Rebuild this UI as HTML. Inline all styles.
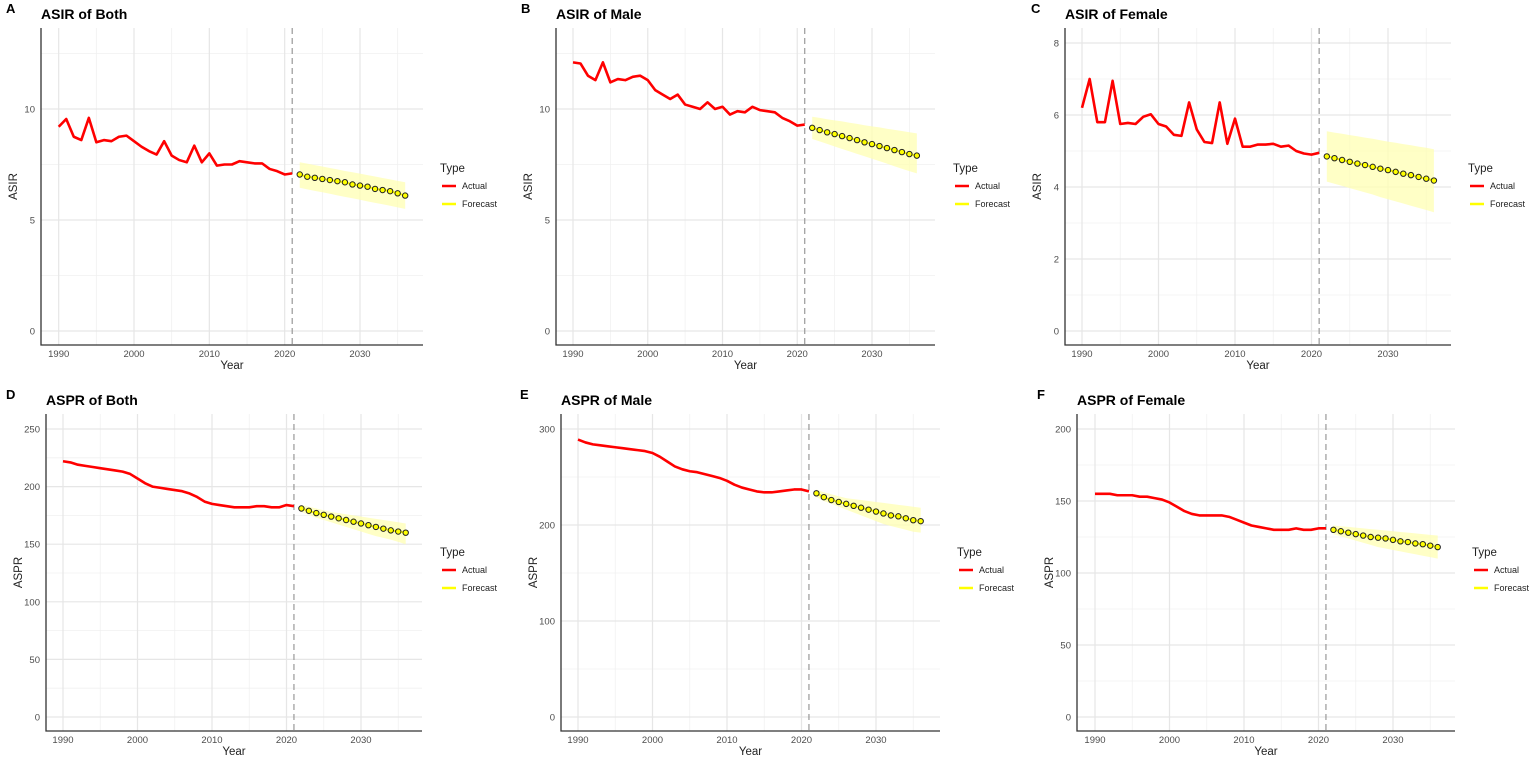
<!DOCTYPE html>
<html><head><meta charset="utf-8"><style>
body{margin:0;background:#fff;width:1535px;height:762px;overflow:hidden;font-family:"Liberation Sans",sans-serif}
svg{position:absolute;left:0;top:0}
</style></head><body>
<svg id="c" width="1535" height="762" xmlns="http://www.w3.org/2000/svg"></svg>
<script>
const actualYears=[];for(let y=1990;y<=2021;y++)actualYears.push(y);
const forecastYears=[];for(let y=2022;y<=2036;y++)forecastYears.push(y);
const aAct=[9.2,9.55,8.75,8.6,9.6,8.5,8.6,8.55,8.75,8.8,8.55,8.3,8.1,7.95,8.55,7.9,7.7,7.6,8.35,7.6,8.0,7.45,7.5,7.5,7.65,7.6,7.55,7.55,7.3,7.2,7.05,7.1];
const aFc=[7.05,6.95,6.9,6.85,6.8,6.75,6.7,6.6,6.55,6.5,6.4,6.35,6.3,6.2,6.1];
const aLo=[6.45,6.38,6.31,6.25,6.18,6.11,6.04,5.98,5.91,5.84,5.77,5.71,5.64,5.57,5.5];
const aHi=[7.6,7.54,7.47,7.41,7.34,7.28,7.21,7.15,7.09,7.02,6.96,6.89,6.83,6.76,6.7];
const bAct=[12.1,12.05,11.5,11.3,12.1,11.2,11.35,11.3,11.45,11.5,11.3,10.85,10.65,10.45,10.65,10.2,10.1,10.0,10.3,10.0,10.1,9.75,9.9,9.85,10.1,9.95,9.9,9.85,9.6,9.45,9.25,9.3];
const bFc=[9.15,9.05,8.95,8.87,8.78,8.69,8.6,8.5,8.42,8.33,8.24,8.15,8.06,7.97,7.9];
const bLo=[8.65,8.54,8.43,8.31,8.2,8.09,7.98,7.87,7.76,7.65,7.54,7.42,7.31,7.2,7.1];
const bHi=[9.65,9.6,9.54,9.49,9.44,9.38,9.33,9.27,9.22,9.17,9.11,9.06,9.01,8.95,8.9];
const cAct=[6.2,7.0,5.8,5.8,6.95,5.75,5.78,5.75,5.95,6.02,5.75,5.68,5.45,5.42,6.35,5.6,5.25,5.22,6.35,5.2,5.9,5.12,5.12,5.18,5.18,5.2,5.12,5.15,5.0,4.93,4.9,4.95];
const cFc=[4.85,4.8,4.75,4.7,4.65,4.61,4.56,4.51,4.47,4.42,4.37,4.33,4.28,4.23,4.18];
const cLo=[4.15,4.09,4.03,3.97,3.91,3.85,3.79,3.72,3.66,3.6,3.54,3.48,3.42,3.36,3.3];
const cHi=[5.55,5.51,5.48,5.44,5.41,5.37,5.34,5.3,5.26,5.23,5.19,5.16,5.12,5.09,5.05];
const dAct=[222,221,219,218,217,216,215,214,213,211,207,203,200,199,198,197,196,194,191,187,185,184,183,182,182,182,183,183,182,182,184,183];
const dFc=[181,179,177,175.5,174,172.5,171,169.5,168,166.5,165,163.5,162,161,160];
const dLo=[178,175.5,173,171,169,167,165,163,161,159,157,155.5,154,152,150];
const dHi=[184,182.5,181,179.5,178,177,176,175,174,173,172,171,170,169,168];
const eAct=[289,286,284,283,282,281,280,279,278,277,275,271,266,261,258,256,255,253,251,249,246,242,239,237,235,234,234,235,236,237,237,235];
const eFc=[233,229,226,224,222,220,218,216,214,212,210,209,207,205,204];
const eLo=[229,225,222,219,216,213,210,207,204,201,199,197,195,193,192];
const eHi=[237,234,232,230,228,227,226,225,224,223,222,221,220,219,218];
const fAct=[155,155,155,154,154,154,153,153,152,151,149,146,143,141,140,140,140,140,139,137,135,133,132,131,130,130,130,131,130,130,131,131];
const fFc=[130,129,128,127,126,125,124.5,124,123,122,121.5,120.5,120,119,118];
const fLo=[127,125.5,124,122.5,121,119.5,118,117,116,115,114,113,112,111,110];
const fHi=[133,132.5,132,131.5,131,130.5,130,129.5,129,128.5,128,127.5,127,126.5,126];

const panels=[
 {L:'A',lx0:6,t:'ASIR of Both',yl:'ASIR',ax:41,ar:423,at:28,ab:345,x0:58.7,x30:360,y0:331,ytop:10,ytopPx:109,majors:[0,5,10],minors:[2.5,7.5,12.5],act:aAct,fc:aFc,lo:aLo,hi:aHi,lx:440,ly:167},
 {L:'B',lx0:521,t:'ASIR of Male',yl:'ASIR',ax:556,ar:935,at:28,ab:345,x0:573,x30:872,y0:331,ytop:10,ytopPx:109,majors:[0,5,10],minors:[2.5,7.5,12.5],act:bAct,fc:bFc,lo:bLo,hi:bHi,lx:953,ly:167},
 {L:'C',lx0:1031,t:'ASIR of Female',yl:'ASIR',ax:1065,ar:1451,at:28,ab:345,x0:1082,x30:1388,y0:331,ytop:8,ytopPx:43,majors:[0,2,4,6,8],minors:[1,3,5,7],act:cAct,fc:cFc,lo:cLo,hi:cHi,lx:1468,ly:167},
 {L:'D',lx0:6,t:'ASPR of Both',yl:'ASPR',ax:46,ar:422,at:414,ab:731,x0:63,x30:361,y0:717,ytop:250,ytopPx:429,majors:[0,50,100,150,200,250],minors:[25,75,125,175,225],act:dAct,fc:dFc,lo:dLo,hi:dHi,lx:440,ly:551},
 {L:'E',lx0:520,t:'ASPR of Male',yl:'ASPR',ax:561,ar:940,at:414,ab:731,x0:578,x30:876,y0:717,ytop:300,ytopPx:429,majors:[0,100,200,300],minors:[50,150,250],act:eAct,fc:eFc,lo:eLo,hi:eHi,lx:957,ly:551},
 {L:'F',lx0:1037,t:'ASPR of Female',yl:'ASPR',ax:1077,ar:1455,at:414,ab:731,x0:1095,x30:1393,y0:717,ytop:200,ytopPx:429,majors:[0,50,100,150,200],minors:[25,75,125,175],act:fAct,fc:fFc,lo:fLo,hi:fHi,lx:1472,ly:551}
];
const NS='http://www.w3.org/2000/svg';
const svg=document.getElementById('c');
function mk(tag,attrs,parent,text){const e=document.createElementNS(NS,tag);for(const k in attrs)e.setAttribute(k,attrs[k]);if(text!==undefined)e.textContent=text;(parent||svg).appendChild(e);return e;}
panels.forEach((p,i)=>{
 const g=mk('g',{});
 
 
 const xs=v=>p.x0+(v-1990)*(p.x30-p.x0)/40;
 const ys=v=>p.y0-(v)*(p.y0-p.ytopPx)/p.ytop;
 [1995,2005,2015,2025,2035].forEach(v=>{const l=mk('line',{x1:xs(v),x2:xs(v),y1:p.at,y2:p.ab,stroke:'#f0f0f0','stroke-width':0.8},g);});
 p.minors.forEach(v=>{if(ys(v)<p.at)return;const l=mk('line',{x1:p.ax,x2:p.ar,y1:ys(v),y2:ys(v),stroke:'#f0f0f0','stroke-width':0.8},g);});
 [1990,2000,2010,2020,2030].forEach(v=>{const l=mk('line',{x1:xs(v),x2:xs(v),y1:p.at,y2:p.ab,stroke:'#e6e6e6','stroke-width':1.2},g);
  const t=mk('text',{x:xs(v),y:p.ab+12,'font-size':9.5,fill:'#4d4d4d','text-anchor':'middle'},g,v);});
 p.majors.forEach(v=>{const l=mk('line',{x1:p.ax,x2:p.ar,y1:ys(v),y2:ys(v),stroke:'#e6e6e6','stroke-width':1.2},g);
  const t=mk('text',{x:p.ax-6,y:ys(v)+3.5,'font-size':9.5,fill:'#4d4d4d','text-anchor':'end'},g,v);});
 const ax=mk('path',{d:`M${p.ax},${p.at}V${p.ab}H${p.ar}`,fill:'none',stroke:'#333','stroke-width':1.3},g);
 let d='';forecastYears.forEach((y,k)=>d+=(k?'L':'M')+xs(y)+','+ys(p.hi[k]));
 for(let k=forecastYears.length-1;k>=0;k--)d+='L'+xs(forecastYears[k])+','+ys(p.lo[k]);
 const band=mk('path',{d:d+'Z',fill:'#ffffb3','fill-opacity':0.75},g);
 const vl=mk('line',{x1:xs(2021),x2:xs(2021),y1:p.at,y2:p.ab,stroke:'#999','stroke-width':1.2,'stroke-dasharray':'6,4'},g);
 const ap=mk('polyline',{points:actualYears.map((y,k)=>xs(y)+','+ys(p.act[k])).join(' '),fill:'none',stroke:'#ff0000','stroke-width':2.6,'stroke-linejoin':'round'},g);
 const fp=mk('polyline',{points:forecastYears.map((y,k)=>xs(y)+','+ys(p.fc[k])).join(' '),fill:'none',stroke:'#ffff00','stroke-width':2},g);
 forecastYears.forEach((y,k)=>{const c=mk('circle',{cx:xs(y),cy:ys(p.fc[k]),r:2.7,fill:'#ffff00',stroke:'#222','stroke-width':1},g);});
 const tl=mk('text',{x:p.ax,y:p.at-9,'font-size':14,'font-weight':'bold',fill:'#000'},g,p.t);
 const lt=mk('text',{x:p.lx0,y:p.at-15,'font-size':13,'font-weight':'bold',fill:'#000'},g,p.L);
 const xt=mk('text',{x:(p.ax+p.ar)/2,y:p.ab+24,'font-size':11.5,fill:'#222','text-anchor':'middle'},g,'Year');
 const ym=(p.at+p.ab)/2;
 const yt=mk('text',{x:p.ax-24,y:ym,'font-size':11.5,fill:'#222','text-anchor':'middle',transform:`rotate(-90 ${p.ax-24} ${ym})`},g,p.yl);
 const lg=mk('g',{},g);
 mk('text',{x:p.lx,y:p.ly+5,'font-size':11.5,fill:'#222'},lg,'Type');
 const la=mk('line',{x1:p.lx+2,x2:p.lx+16,y1:p.ly+19,y2:p.ly+19,stroke:'#ff0000','stroke-width':2.5},lg);
 mk('text',{x:p.lx+22,y:p.ly+22,'font-size':9,fill:'#222'},lg,'Actual');
 const lf=mk('line',{x1:p.lx+2,x2:p.lx+16,y1:p.ly+37,y2:p.ly+37,stroke:'#ffff00','stroke-width':2.5},lg);
 mk('text',{x:p.lx+22,y:p.ly+40,'font-size':9,fill:'#222'},lg,'Forecast');
});
</script>
</body></html>
